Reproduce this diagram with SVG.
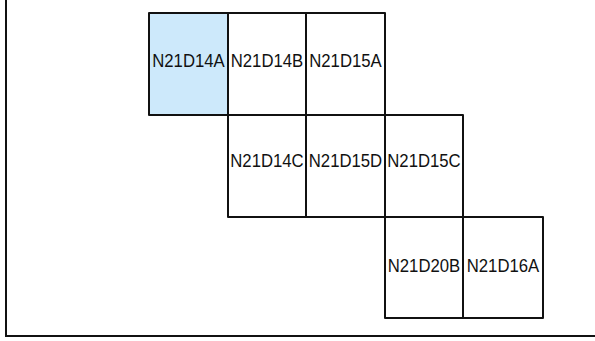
<svg xmlns="http://www.w3.org/2000/svg" width="595" height="341" viewBox="0 0 595 341">
<style>
.cell{fill:#ffffff;stroke:#111;stroke-width:2;stroke-linejoin:round}
.sel{fill:#cde9fb}
.lbl{font-family:"Liberation Sans",Arial,sans-serif;font-size:19px;fill:#111;text-anchor:middle}
.frame{fill:none;stroke:#111;stroke-width:2}
</style>
<rect width="595" height="341" fill="#ffffff"/>
<path class="frame" d="M6,-2 V336 H597"/>
<g id="N21D14A"><rect class="cell sel" x="149" y="13" width="79" height="102"/><text class="lbl" x="188.5" y="66.5" textLength="72.5" lengthAdjust="spacingAndGlyphs" fill="#222">N21D14A</text></g>
<g id="N21D14B"><rect class="cell" x="228" y="13" width="78" height="102"/><text class="lbl" x="267" y="66.5" textLength="72.5" lengthAdjust="spacingAndGlyphs">N21D14B</text></g>
<g id="N21D15A"><rect class="cell" x="306" y="13" width="79" height="102"/><text class="lbl" x="345.5" y="66.5" textLength="72.5" lengthAdjust="spacingAndGlyphs">N21D15A</text></g>
<g id="N21D14C"><rect class="cell" x="228" y="115" width="78" height="102"/><text class="lbl" x="267" y="167" textLength="73.4" lengthAdjust="spacingAndGlyphs">N21D14C</text></g>
<g id="N21D15D"><rect class="cell" x="306" y="115" width="79" height="102"/><text class="lbl" x="345.5" y="167" textLength="73.4" lengthAdjust="spacingAndGlyphs">N21D15D</text></g>
<g id="N21D15C"><rect class="cell" x="385" y="115" width="78" height="102"/><text class="lbl" x="424" y="167" textLength="73.4" lengthAdjust="spacingAndGlyphs">N21D15C</text></g>
<g id="N21D20B"><rect class="cell" x="385" y="217" width="78" height="101"/><text class="lbl" x="424" y="271.5" textLength="72.5" lengthAdjust="spacingAndGlyphs">N21D20B</text></g>
<g id="N21D16A"><rect class="cell" x="463" y="217" width="80" height="101"/><text class="lbl" x="503" y="271.5" textLength="72.5" lengthAdjust="spacingAndGlyphs">N21D16A</text></g>
<g id="connectors"></g>
</svg>
